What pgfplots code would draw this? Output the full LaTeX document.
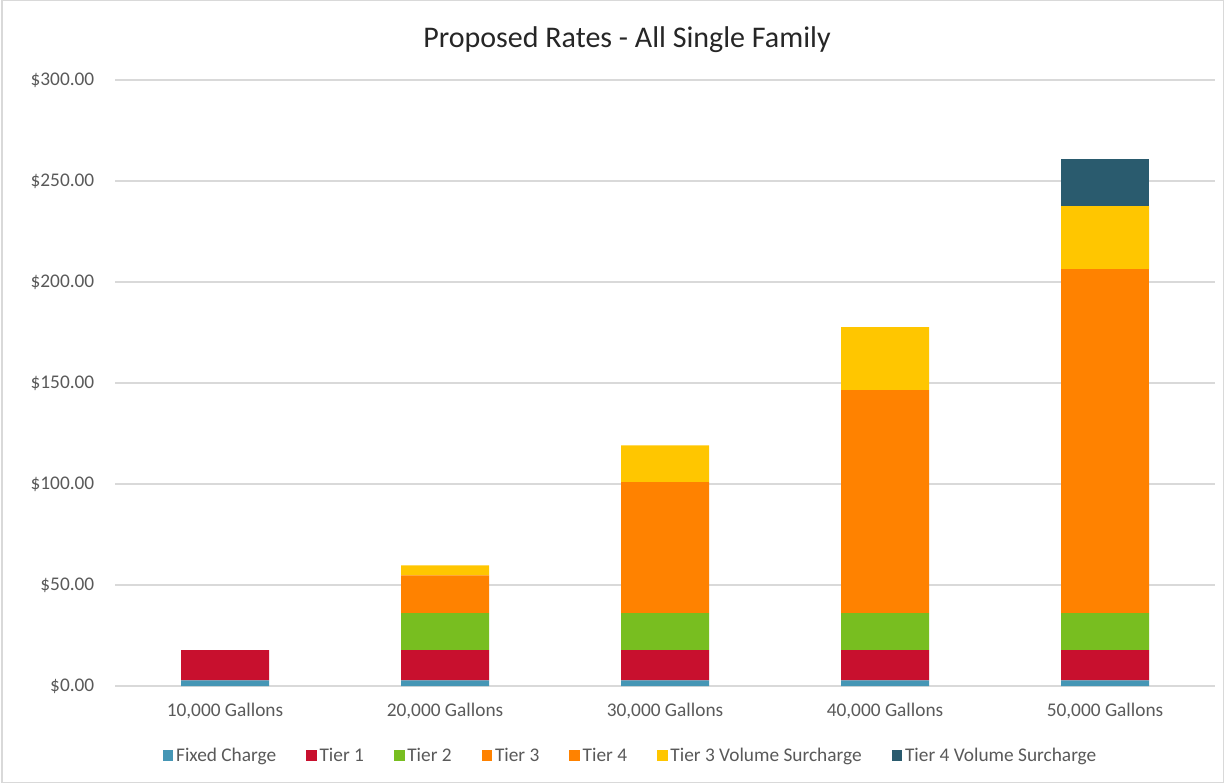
\documentclass[border=0pt]{standalone}
\usepackage{pgfplots}
\pgfplotsset{compat=1.18}
\usepackage{fontspec}
\setmainfont{Carlito}
\definecolor{cfix}{HTML}{4596B5}
\definecolor{ct1}{HTML}{C8102E}
\definecolor{ct2}{HTML}{78BE20}
\definecolor{ct3}{HTML}{FF8200}
\definecolor{ct3s}{HTML}{FFC600}
\definecolor{ct4s}{HTML}{2A5B6E}
\definecolor{gridc}{HTML}{D9D9D9}
\definecolor{txt}{HTML}{595959}
\begin{document}
\begin{tikzpicture}
\path[use as bounding box] (0,0) rectangle (918pt,587.25pt);
\draw[gridc, line width=0.8pt] (1.5pt,0.5pt) rectangle (917.5pt,586.75pt);
\begin{axis}[
  at={(86.25pt,72.75pt)}, anchor=south west,
  scale only axis, width=825pt, height=454.5pt,
  ybar stacked, bar width=66pt,
  xmin=-0.5, xmax=4.5, ymin=0, ymax=300,
  xtick=data, xticklabels={{10,000 Gallons},{20,000 Gallons},{30,000 Gallons},{40,000 Gallons},{50,000 Gallons}},
  ytick={0,50,...,300},
  yticklabel={\$\pgfmathprintnumber[fixed,fixed zerofill,precision=2]{\tick}},
  /pgf/number format/assume math mode=true,
  ymajorgrids, grid style={gridc, line width=0.8pt},
  axis x line*=bottom, axis y line*=left,
  x axis line style={gridc, line width=0.8pt, -},
  y axis line style={draw=none},
  major tick length=0pt,
  tick label style={font=\fontsize{14.5}{17}\selectfont, text=txt},
  yticklabel style={xshift=-12pt},
  xticklabel style={yshift=-9.5pt},
  legend columns=7,
  legend style={at={(0.469,-0.115)}, anchor=center, draw=none, font=\fontsize{14.5}{17}\selectfont, text=txt,
    /tikz/every even column/.append style={column sep=20.5pt}},
  legend image code/.code={\fill[#1] (0pt,-4pt) rectangle (8pt,4pt);},
]
\addplot[fill=cfix, draw=none] coordinates {(0,2.8) (1,2.8) (2,2.8) (3,2.8) (4,2.8)};
\addplot[fill=ct1, draw=none] coordinates {(0,15.0) (1,15.0) (2,15.0) (3,15.0) (4,15.0)};
\addplot[fill=ct2, draw=none] coordinates {(0,0) (1,18.3) (2,18.3) (3,18.3) (4,18.3)};
\addplot[fill=ct3, draw=none] coordinates {(0,0) (1,18.7) (2,64.8) (3,110.4) (4,110.4)};
\addplot[fill=ct3, draw=none] coordinates {(0,0) (1,0) (2,0) (3,0) (4,59.8)};
\addplot[fill=ct3s, draw=none] coordinates {(0,0) (1,4.9) (2,18.2) (3,31.2) (4,31.3)};
\addplot[fill=ct4s, draw=none] coordinates {(0,0) (1,0) (2,0) (3,0) (4,23.3)};
\legend{Fixed Charge,Tier 1,Tier 2,Tier 3,Tier 4,Tier 3 Volume Surcharge,Tier 4 Volume Surcharge}
\end{axis}
\node[font=\fontsize{22.5}{26}\selectfont, text=black!85] at (470.25pt,557.5pt) {Proposed Rates - All Single Family};
\end{tikzpicture}
\end{document}
